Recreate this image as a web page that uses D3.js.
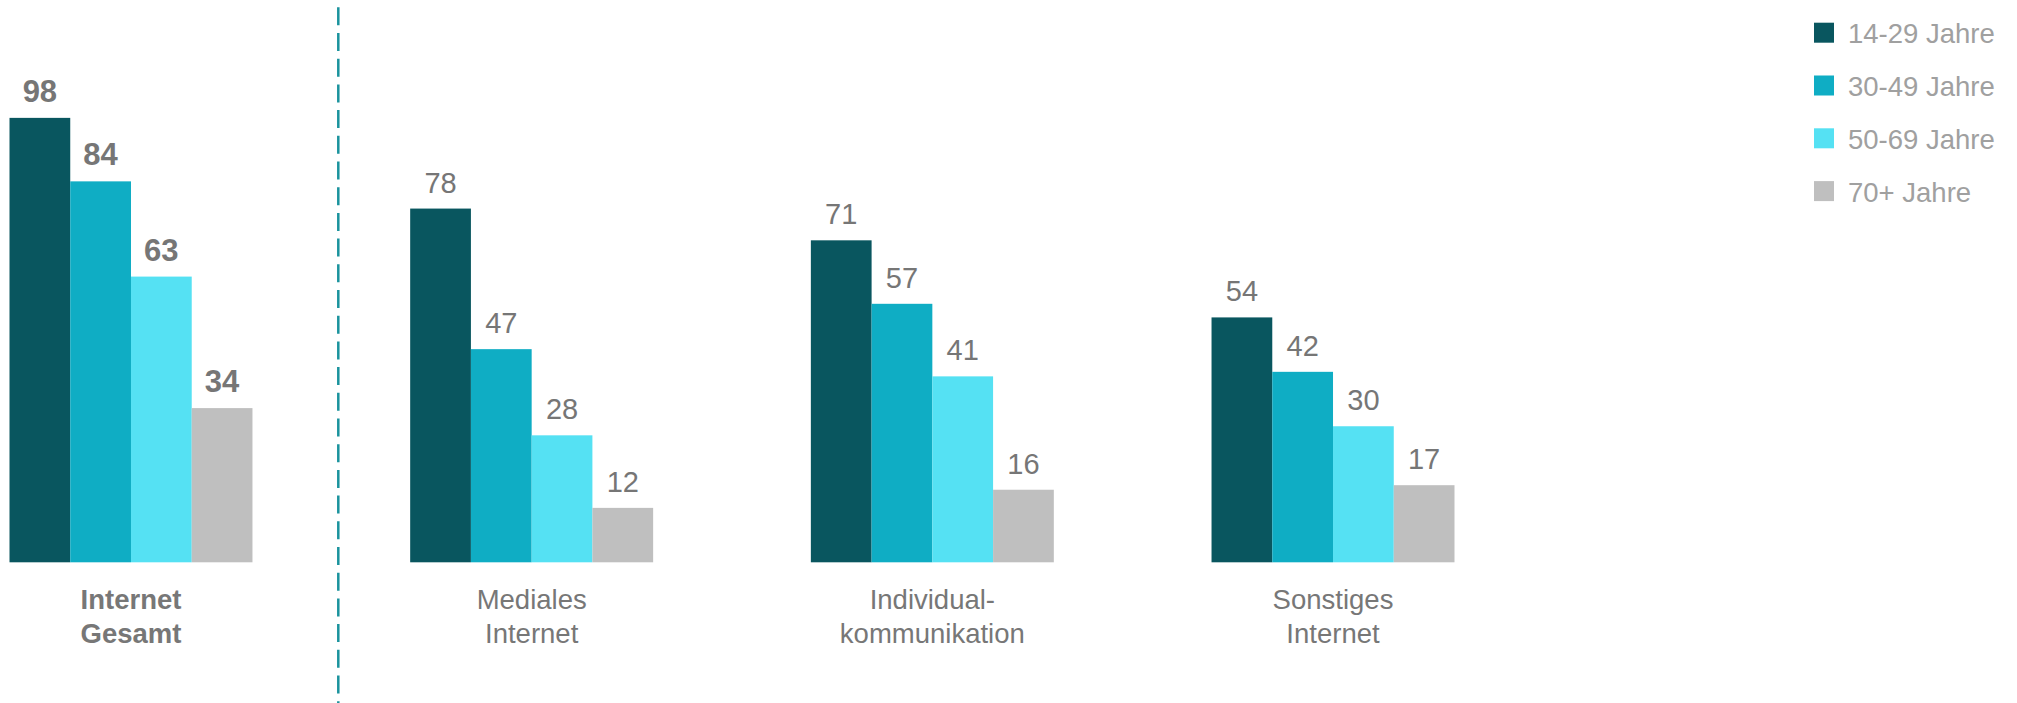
<!DOCTYPE html>
<html>
<head>
<meta charset="utf-8">
<script src="https://cdn.jsdelivr.net/npm/d3@7"></script>
<style>
  body { margin: 0; background: #fff; }
  svg { display: block; font-family: "Liberation Sans", Arial, sans-serif; }
</style>
</head>
<body>
<script>
// data
const categories = ["Internet Gesamt", "Mediales Internet", "Individualkommunikation", "Sonstiges Internet"];
const catLines = [["Internet", "Gesamt"], ["Mediales", "Internet"], ["Individual-", "kommunikation"], ["Sonstiges", "Internet"]];
const ageGroups = ["14-29 Jahre", "30-49 Jahre", "50-69 Jahre", "70+ Jahre"];
const values = [
    [98, 84, 63, 34],
    [78, 47, 28, 12],
    [71, 57, 41, 16],
    [54, 42, 30, 17]
];
const colors = ["#09565f", "#0fadc4", "#55e1f3", "#bfbfbf"];

let w = 2017;
let h = 703;

const svg = d3.select("body")
    .append("svg")
    .attr("width", w)
    .attr("height", h);

const x0 = d3.scaleBand()
    .domain(categories)
    .range([9.5, 1454.5])
    .paddingInner(0.3936)
    .paddingOuter(0);

const x1 = d3.scaleBand()
    .domain(ageGroups)
    .range([0, x0.bandwidth()])
    .padding(0);

const yScale = d3.scaleLinear()
    .domain([0, 100])
    .range([562.3, 562.3 - 453.5]);

const color = d3.scaleOrdinal().domain(ageGroups).range(colors);

// bars
const groups = svg.selectAll("g.group")
    .data(categories)
    .enter()
    .append("g")
    .attr("class", "group")
    .attr("transform", (d) => "translate(" + x0(d) + ",0)");

groups.selectAll("rect")
    .data((d, i) => values[i].map((v, j) => ({ age: ageGroups[j], value: v })))
    .enter()
    .append("rect")
    .attr("x", (d) => x1(d.age))
    .attr("y", (d) => yScale(d.value))
    .attr("width", x1.bandwidth())
    .attr("height", (d) => yScale(0) - yScale(d.value))
    .attr("fill", (d) => color(d.age));

// value labels (first group bold)
groups.each(function (cat, i) {
    d3.select(this).selectAll("text.val")
        .data(values[i].map((v, j) => ({ age: ageGroups[j], value: v })))
        .enter()
        .append("text")
        .attr("class", "val")
        .attr("x", (d) => x1(d.age) + x1.bandwidth() / 2)
        .attr("y", (d) => yScale(d.value) - 16)
        .attr("text-anchor", "middle")
        .style("font-size", i == 0 ? "31px" : "29px")
        .style("font-weight", i == 0 ? "bold" : "normal")
        .style("fill", "#767676")
        .text((d) => d.value);
});

// category labels
groups.each(function (cat, i) {
    const t = d3.select(this).append("text")
        .attr("text-anchor", "middle")
        .style("font-size", "27.5px")
        .style("font-weight", i == 0 ? "bold" : "normal")
        .style("fill", "#777777");
    catLines[i].forEach((line, k) => {
        t.append("tspan")
            .attr("x", x0.bandwidth() / 2)
            .attr("y", 609 + k * 34)
            .text(line);
    });
});

// dashed separator
svg.append("line")
    .attr("x1", 338.3)
    .attr("x2", 338.3)
    .attr("y1", 7.3)
    .attr("y2", h)
    .attr("stroke", "#1a939d")
    .attr("stroke-width", 2.5)
    .attr("stroke-dasharray", "18,7.7");

// legend
let legend = svg.append("g")
    .attr("id", "legend")
    .attr("transform", "translate(1814,22.7)");

legend.selectAll("rect")
    .data(ageGroups)
    .enter()
    .append("rect")
    .attr("x", 0)
    .attr("y", (d, i) => i * 52.8)
    .attr("width", 20)
    .attr("height", 20)
    .style("fill", (d) => color(d));

legend.selectAll("text")
    .data(ageGroups)
    .enter()
    .append("text")
    .attr("x", 34)
    .attr("y", (d, i) => i * 52.8 + 20.5)
    .text((d) => d)
    .style("font-size", "27.5px")
    .style("fill", "#a0a0a0");
</script>
</body>
</html>
